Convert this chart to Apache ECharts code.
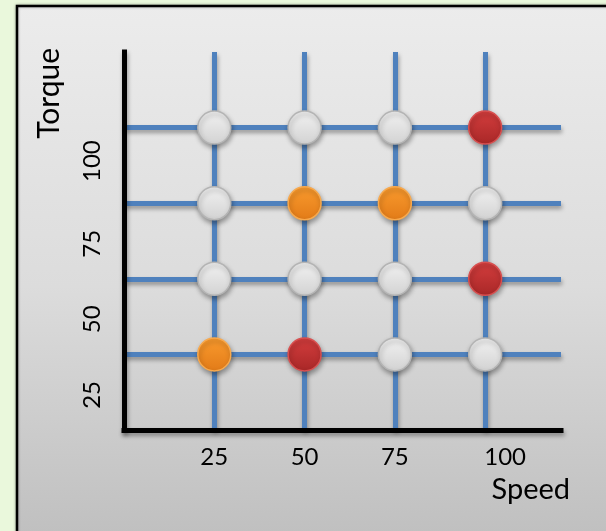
<!DOCTYPE html>
<html>
<head>
<meta charset="utf-8">
<script src="https://cdn.jsdelivr.net/npm/echarts@6/dist/echarts.min.js"></script>
<style>
  html, body { margin: 0; padding: 0; background: #eaf8dc; }
  #chart { width: 606px; height: 531px; }
</style>
</head>
<body>
<div id="chart"></div>
<script>
// Operating points on the speed / torque grid
const speedTicks = [25, 50, 75, 100];
const torqueTicks = [25, 50, 75, 100];

// [speed, torque] pairs grouped by status
const normalPoints = [
  [25, 100], [50, 100], [75, 100],
  [25, 75], [100, 75],
  [25, 50], [50, 50], [75, 50],
  [75, 25], [100, 25]
];
const warningPoints = [[50, 75], [75, 75], [25, 25]];
const criticalPoints = [[100, 100], [100, 50], [50, 25]];

const gridBlue = '#4f81bd';
const lineShadow = {
  shadowColor: 'rgba(0,0,0,0.35)',
  shadowBlur: 4,
  shadowOffsetX: 1,
  shadowOffsetY: 3
};

function vGrad(top, bottom) {
  return new echarts.graphic.LinearGradient(0, 0, 0, 1, [
    { offset: 0, color: top },
    { offset: 1, color: bottom }
  ]);
}

function dotSeries(name, data, top, bottom, border) {
  return {
    name: name,
    type: 'scatter',
    data: data,
    symbol: 'circle',
    symbolSize: 33,
    z: 5,
    itemStyle: {
      opacity: 1,
      color: vGrad(top, bottom),
      borderColor: border,
      borderWidth: 1.5,
      shadowColor: 'rgba(0,0,0,0.35)',
      shadowBlur: 5,
      shadowOffsetX: 1,
      shadowOffsetY: 3
    },
    emphasis: { disabled: true }
  };
}

const chart = echarts.init(document.getElementById('chart'));
chart.setOption({
  animation: false,
  backgroundColor: '#eaf8dc',
  textStyle: { fontFamily: 'Lato', color: '#000' },
  graphic: [{
    type: 'rect',
    z: -10,
    shape: { x: 17, y: 6, width: 620, height: 560 },
    style: {
      fill: new echarts.graphic.LinearGradient(0, 0, 0, 1, [
        { offset: 0, color: '#ececec' },
        { offset: 0.5, color: '#dcdcdc' },
        { offset: 1, color: '#bcbcbc' }
      ]),
      stroke: '#000',
      lineWidth: 2.5,
      shadowColor: 'rgba(0,0,0,0.3)',
      shadowBlur: 3
    }
  }],
  grid: {
    left: 124, top: 52, width: 437, height: 378,
    containLabel: false, outerBoundsMode: 'none'
  },
  xAxis: {
    type: 'value',
    min: 0, max: 121, interval: 25,
    name: 'Speed',
    nameLocation: 'end',
    nameGap: 9,
    nameTextStyle: {
      fontSize: 29, color: '#000', align: 'right', verticalAlign: 'top',
      padding: [45, 0, 0, 0]
    },
    axisLine: { lineStyle: Object.assign({ color: '#000', width: 5, cap: 'square' }, lineShadow) },
    axisTick: { show: false },
    axisLabel: {
      customValues: speedTicks,
      margin: 15,
      fontSize: 24,
      color: '#000',
      formatter: function (v) { return v === 100 ? '{r|' + v + '}' : '{n|' + v + '}'; },
      rich: {
        n: { fontSize: 24, color: '#000' },
        r: { fontSize: 24, color: '#000', padding: [0, 0, 0, 40] }
      }
    },
    splitLine: {
      show: true, showMinLine: false, showMaxLine: false,
      lineStyle: Object.assign({ color: gridBlue, width: 5 }, lineShadow)
    }
  },
  yAxis: [{
    type: 'value',
    min: 0, max: 125, interval: 25,
    name: 'Torque',
    nameLocation: 'end',
    nameGap: 4,
    nameRotate: 90,
    nameTextStyle: {
      fontSize: 30, color: '#000', align: 'right', verticalAlign: 'bottom',
      padding: [0, 0, 60, 0]
    },
    axisLine: { lineStyle: Object.assign({ color: '#000', width: 5, cap: 'square' }, lineShadow) },
    axisTick: { show: false },
    axisLabel: { show: false },
    splitLine: {
      show: true, showMinLine: false, showMaxLine: false,
      lineStyle: Object.assign({ color: gridBlue, width: 5 }, lineShadow)
    }
  }, {
    // label-only axis: torque tick labels sit below their grid lines
    type: 'value',
    position: 'left',
    min: 18, max: 143,
    axisLine: { show: false },
    axisTick: { show: false },
    splitLine: { show: false },
    axisLabel: {
      customValues: torqueTicks,
      rotate: 90,
      align: 'left',
      verticalAlign: 'middle',
      margin: 32,
      fontSize: 24,
      color: '#000'
    }
  }],
  series: [
    dotSeries('Normal', normalPoints, '#f2f2f2', '#d2d2d2', '#b4b4b4'),
    dotSeries('Warning', warningPoints, '#fa9b2e', '#e27b18', '#f7a94e'),
    dotSeries('Critical', criticalPoints, '#d53e3e', '#a82727', '#d85050')
  ]
});
</script>
</body>
</html>
